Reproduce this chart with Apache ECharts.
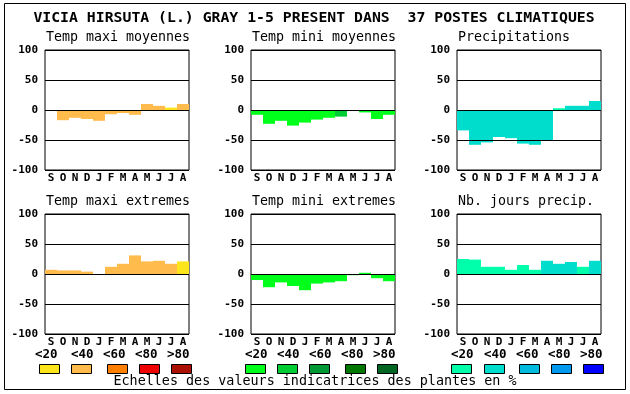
<!DOCTYPE html>
<html>
<head>
<meta charset="utf-8">
<script src="https://cdn.jsdelivr.net/npm/echarts@6/dist/echarts.min.js"></script>
<style>
html,body{margin:0;padding:0;background:#fff;}
#chart{width:630px;height:394px;}
</style>
</head>
<body>
<div id="chart"></div>
<script>
// ---- data ----
const mainTitle = 'VICIA HIRSUTA (L.) GRAY 1-5 PRESENT DANS  37 POSTES CLIMATIQUES';
const footer = 'Echelles des valeurs indicatrices des plantes en %';
const months = ['S','O','N','D','J','F','M','A','M','J','J','A'];
const yTicks = [-100, -50, 0, 50, 100];
const classLabels = ['<20','<40','<60','<80','>80'];

const panelTitles = ['Temp maxi moyennes','Temp mini moyennes','Precipitations',
                     'Temp maxi extremes','Temp mini extremes','Nb. jours precip.'];

const tmaxMoy    = [0, -17, -13, -15, -18, -7, -5, -8, 10, 7, 4, 10];
const tmaxMoyCls = [1, 1, 1, 1, 1, 1, 1, 1, 1, 1, 0, 1];
const tminMoy    = [-8, -23, -18, -26, -21, -16, -13, -11, 0, -4, -15, -8];
const tminMoyCls = [0, 0, 0, 0, 0, 0, 0, 1, 0, 0, 0, 0];
const precip     = [-34, -58, -54, -45, -47, -56, -58, -50, 3, 7, 7, 15];
const precipCls  = [1, 1, 1, 1, 1, 1, 1, 1, 0, 1, 1, 1];
const tmaxExt    = [7, 6, 6, 4, 0, 12, 17, 31, 21, 22, 17, 21];
const tmaxExtCls = [1, 1, 1, 1, 1, 1, 1, 1, 1, 1, 1, 0];
const tminExt    = [-10, -22, -14, -20, -27, -16, -14, -12, -2, 2, -7, -12];
const tminExtCls = [0, 0, 0, 0, 0, 0, 0, 0, 0, 0, 0, 0];
const nbJours    = [25, 24, 12, 12, 7, 15, 7, 22, 17, 20, 12, 22];
const nbJoursCls = [0, 0, 0, 0, 0, 0, 0, 1, 1, 1, 0, 1];

// ---- styles ----
const warm  = ['#FCE51A', '#FFBB4C', '#FF7F00', '#EE0000', '#AA1100'];
const green = ['#00FF1A', '#00CC33', '#009933', '#007700', '#006622'];
const blue  = ['#00FFAA', '#00DDCC', '#00BBDD', '#0099EE', '#0000FF'];

const panels = [
  {v: tmaxMoy, c: tmaxMoyCls, pal: warm},
  {v: tminMoy, c: tminMoyCls, pal: green},
  {v: precip,  c: precipCls,  pal: blue},
  {v: tmaxExt, c: tmaxExtCls, pal: warm},
  {v: tminExt, c: tminExtCls, pal: green},
  {v: nbJours, c: nbJoursCls, pal: blue}
];

const FONT = 'DejaVu Sans Mono';
const lefts = [45, 251, 457];
const tops = [50, 214];
const gw = 144, gh = 120;

const grids = [], xAxes = [], yAxes = [], series = [], graphics = [];

panels.forEach((p, i) => {
  const col = i % 3, row = Math.floor(i / 3);
  grids.push({left: lefts[col], top: tops[row], width: gw, height: gh,
    show: true, borderColor: '#000', borderWidth: 1, backgroundColor: 'transparent'});
  xAxes.push({type: 'category', gridIndex: i, data: months,
    axisLine: {show: false, onZero: false}, axisTick: {show: false},
    axisLabel: {fontFamily: FONT, fontWeight: 'bold', fontSize: 11, color: '#000', margin: 3, interval: 0},
    splitLine: {show: false}});
  yAxes.push({type: 'value', gridIndex: i, min: yTicks[0], max: yTicks[yTicks.length - 1],
    interval: yTicks[1] - yTicks[0],
    axisLine: {show: false}, axisTick: {show: false},
    axisLabel: {fontFamily: FONT, fontWeight: 'bold', fontSize: 11, color: '#000', margin: 7},
    splitLine: {show: true, lineStyle: {color: '#000', width: 1}}});
  series.push({type: 'bar', xAxisIndex: i, yAxisIndex: i, barWidth: '100%', barGap: '0%',
    barCategoryGap: '0%', silent: true, animation: false,
    data: p.v.map((v, k) => ({value: v, itemStyle: {color: p.pal[p.c[k]]}})),
    markLine: {silent: true, symbol: 'none', label: {show: false}, animation: false,
      lineStyle: {color: '#000', width: 1, type: 'solid'},
      data: yTicks.filter(t => t > yTicks[0] && t < yTicks[yTicks.length - 1]).map(t => ({yAxis: t}))}
  });
  graphics.push({type: 'text', left: lefts[col] + 1, top: tops[row] - 19,
    style: {text: panelTitles[i], font: '13.3px "' + FONT + '"', fill: '#000'}});
});

// frame
graphics.push({type: 'rect', shape: {x: 4.5, y: 3.5, width: 621, height: 386},
  style: {fill: 'none', stroke: '#000', lineWidth: 1}, z: 10});
// main title
graphics.push({type: 'text', x: 314, y: 18,
  style: {text: mainTitle, font: 'bold 14.8px "' + FONT + '"', fill: '#000', align: 'center', verticalAlign: 'middle'}});
// footer
graphics.push({type: 'text', x: 315, y: 382,
  style: {text: footer, font: '13.4px "' + FONT + '"', fill: '#000', align: 'center', verticalAlign: 'middle'}});

// legend
const boxX = [[39, 71, 107, 139, 171], [245, 277, 309, 345, 377], [451, 484, 519, 551, 583]];
const labX = [[35, 71, 103, 135, 167], [245, 277, 309, 341, 373], [451, 484, 516, 548, 580]];
const pals = [warm, green, blue];
pals.forEach((pal, g) => {
  classLabels.forEach((lab, k) => {
    graphics.push({type: 'text', x: labX[g][k], y: 355,
      style: {text: lab, font: 'bold 12.5px "' + FONT + '"', fill: '#000', align: 'left', verticalAlign: 'middle'}});
    graphics.push({type: 'rect', shape: {x: boxX[g][k] + 0.5, y: 364.5, width: 20, height: 9},
      style: {fill: pal[k], stroke: '#000', lineWidth: 1}});
  });
});

const chart = echarts.init(document.getElementById('chart'), null, {renderer: 'canvas'});
chart.setOption({
  animation: false,
  backgroundColor: '#fff',
  grid: grids, xAxis: xAxes, yAxis: yAxes, series: series, graphic: graphics
});
</script>
</body>
</html>
